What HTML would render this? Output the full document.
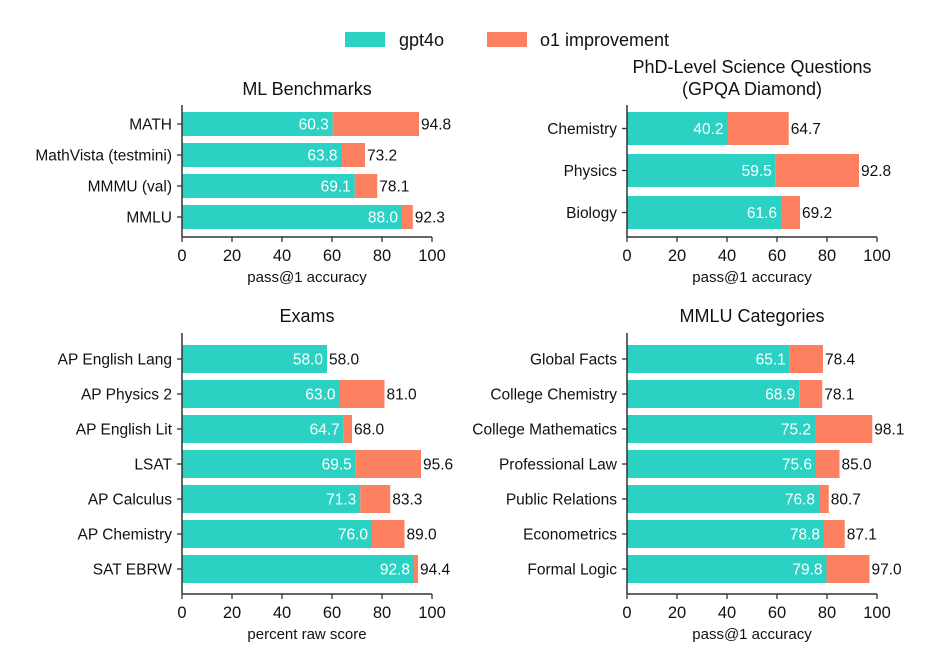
<!DOCTYPE html>
<html><head><meta charset="utf-8"><style>
body{margin:0;background:#fff;}
svg{display:block;font-family:"Liberation Sans",sans-serif;}
</style></head><body>
<svg id="c" width="940" height="656" viewBox="0 0 940 656">
<rect width="940" height="656" fill="#fff"/>
<g>
<rect x="345" y="32" width="40" height="15" fill="#2bd1c3"/>
<text x="399" y="46" font-size="18" fill="#111">gpt4o</text>
<rect x="487" y="32" width="40" height="15" fill="#fd8061"/>
<text x="540" y="46" font-size="18" fill="#111">o1 improvement</text>
</g>
</svg>
<script>
const mlCats=["MATH","MathVista (testmini)","MMMU (val)","MMLU"];
const mlBase=[60.3,63.8,69.1,88.0];
const mlTotal=[94.8,73.2,78.1,92.3];
const phdCats=["Chemistry","Physics","Biology"];
const phdBase=[40.2,59.5,61.6];
const phdTotal=[64.7,92.8,69.2];
const exCats=["AP English Lang","AP Physics 2","AP English Lit","LSAT","AP Calculus","AP Chemistry","SAT EBRW"];
const exBase=[58.0,63.0,64.7,69.5,71.3,76.0,92.8];
const exTotal=[58.0,81.0,68.0,95.6,83.3,89.0,94.4];
const mmCats=["Global Facts","College Chemistry","College Mathematics","Professional Law","Public Relations","Econometrics","Formal Logic"];
const mmBase=[65.1,68.9,75.2,75.6,76.8,78.8,79.8];
const mmTotal=[78.4,78.1,98.1,85.0,80.7,87.1,97.0];
const xTicks=[0,20,40,60,80,100];

const svg=document.getElementById('c');
const NS='http://www.w3.org/2000/svg';
function mk(tag,a,parent){const e=document.createElementNS(NS,tag);for(const k in a)e.setAttribute(k,a[k]);parent.appendChild(e);return e;}
function panel(name,titles,titleY,cats,base,total,x0,axTop,axBot,firstTop,pitch,bh,xlabel){
  const g=mk('g',{},svg);
  
  
  const sx=v=>x0+v*2.5;
  titles.forEach((t,i)=>{const e=mk('text',{x:sx(50),y:titleY+i*22,'font-size':18,'text-anchor':'middle',fill:'#111'},g);e.textContent=t;
    
    });
  cats.forEach((c,i)=>{
    const y=firstTop+i*pitch, cy=y+bh/2;
    const b=mk('rect',{x:sx(0),y:y,width:sx(base[i])-sx(0),height:bh,fill:'#2bd1c3'},g);
    
    
    const o=mk('rect',{x:sx(base[i]),y:y,width:sx(total[i])-sx(base[i]),height:bh,fill:'#fd8061'},g);
    
    
    const bl=mk('text',{x:sx(base[i])-4,y:cy+5.5,'font-size':15.5,'text-anchor':'end',fill:'#fff'},g);bl.textContent=base[i].toFixed(1);
    
    
    const tl=mk('text',{x:sx(total[i])+2,y:cy+5.5,'font-size':15.5,fill:'#111'},g);tl.textContent=total[i].toFixed(1);
    
    
    mk('line',{x1:x0-5,x2:x0,y1:cy,y2:cy,stroke:'#333','stroke-width':1.3},g);
    const cl=mk('text',{x:x0-10,y:cy+5.5,'font-size':15.5,'text-anchor':'end',fill:'#111'},g);cl.textContent=c;
    
    
  });
  mk('line',{x1:x0,x2:x0,y1:axTop,y2:axBot,stroke:'#333','stroke-width':1.5},g);
  mk('line',{x1:x0,x2:sx(100),y1:axBot,y2:axBot,stroke:'#333','stroke-width':1.5},g);
  xTicks.forEach(t=>{
    mk('line',{x1:sx(t),x2:sx(t),y1:axBot,y2:axBot+5,stroke:'#333','stroke-width':1.3},g);
    const e=mk('text',{x:sx(t),y:axBot+24,'font-size':16.5,'text-anchor':'middle',fill:'#111'},g);e.textContent=t;
    
    
  });
  const xl=mk('text',{x:sx(50),y:axBot+45,'font-size':15,'text-anchor':'middle',fill:'#111'},g);xl.textContent=xlabel;
  
  
}
panel('ml-benchmarks-panel',['ML Benchmarks'],95,mlCats,mlBase,mlTotal,182,105,237,112,31,24,'pass@1 accuracy');
panel('phd-science-panel',['PhD-Level Science Questions','(GPQA Diamond)'],73,phdCats,phdBase,phdTotal,627,105,237,112,42,33,'pass@1 accuracy');
panel('exams-panel',['Exams'],322,exCats,exBase,exTotal,182,333,594,345,35,28,'percent raw score');
panel('mmlu-categories-panel',['MMLU Categories'],322,mmCats,mmBase,mmTotal,627,333,594,345,35,28,'pass@1 accuracy');
</script>
</body></html>
